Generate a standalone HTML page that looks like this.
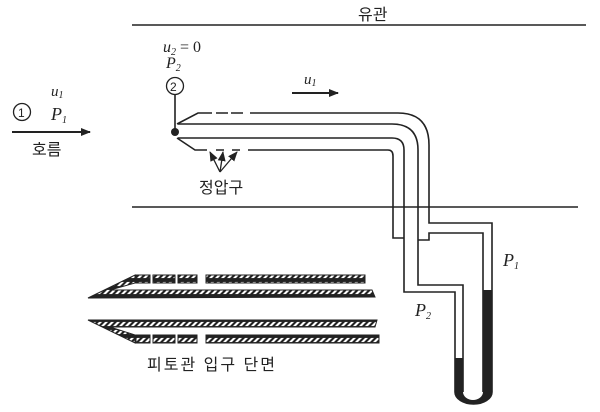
<!DOCTYPE html>
<html><head><meta charset="utf-8"><style>
html,body{margin:0;padding:0;background:#fff;}
svg{display:block}
text{font-family:"Liberation Serif","Noto Serif CJK SC",serif;fill:#222}
.k{font-family:"Liberation Sans","Noto Sans CJK KR",sans-serif;font-size:16px}
.i{font-style:italic;font-size:18px}
</style></head><body>
<svg width="600" height="412" viewBox="0 0 600 412" xmlns="http://www.w3.org/2000/svg">
<defs>
<pattern id="h" width="6" height="8" patternUnits="userSpaceOnUse" patternTransform="skewX(-45)">
<rect width="6" height="8" fill="#222"/><rect x="1" y="2" width="3" height="4" fill="#fff"/>
</pattern>
<marker id="a" markerWidth="10" markerHeight="8" refX="9" refY="4" orient="auto" markerUnits="userSpaceOnUse"><path d="M0,0 L10,4 L0,8 z" fill="#222"/></marker>
</defs>
<g stroke="#222" fill="none" stroke-width="1.6">
<line x1="132" y1="25" x2="586" y2="25"/>
<line x1="132" y1="207" x2="578" y2="207"/>
<line x1="12" y1="132" x2="90" y2="132" stroke-width="2" marker-end="url(#a)"/>
<line x1="292" y1="93" x2="338" y2="93" stroke-width="2" marker-end="url(#a)"/>
<line x1="175" y1="94" x2="175" y2="132"/>
<path d="M177,124 L198,113 L212,113 M216,113 L228,113 M231,113 L243,113 M250,113 L398,113 Q429,113 429,145 L429,223 L492,223 L492,392"/>
<path d="M178,124 L392,124 Q418,124 418,150 L418,285 L463,285 L463,392"/>
<path d="M418,240 L429,240 L429,233 L483,233 L483,392"/>
<path d="M178,138 L392,138 Q404,138 404,150 L404,292 L455,292 L455,392"/>
<path d="M177,138 L195,150 L207,150 M216,150 L224,150 M232,150 L240,150 M248,150 L388,150 Q393,150 393,156 L393,238 L404,238"/>
</g>
<path d="M483,290 L492,290 L492,392 A18.5,12 0 0 1 455,392 L455,358 L463,358 L463,392 A10,8 0 0 0 483,392 Z" fill="#222"/>
<path d="M455,392 A18.5,12 0 0 0 492,392" stroke="#222" fill="none" stroke-width="1.6"/>
<circle cx="175" cy="132" r="4" fill="#222"/>
<circle cx="175" cy="86" r="8.5" fill="none" stroke="#222" stroke-width="1.3"/>
<text x="170" y="91" style="font-size:12px;font-family:'Liberation Sans',sans-serif">2</text>
<circle cx="22" cy="112" r="8.5" fill="none" stroke="#222" stroke-width="1.3"/>
<text x="18" y="117" style="font-size:12px;font-family:'Liberation Sans',sans-serif">1</text>
<g stroke="#222" stroke-width="1.3" fill="none">
<line x1="220" y1="172" x2="210" y2="152" marker-end="url(#a)"/>
<line x1="220" y1="172" x2="223" y2="152" marker-end="url(#a)"/>
<line x1="220" y1="172" x2="237" y2="152" marker-end="url(#a)"/>
</g>
<g fill="url(#h)" stroke="#222" stroke-width="1">
<rect x="136" y="275" width="14" height="8"/>
<rect x="153" y="275" width="22" height="8"/>
<rect x="178" y="275" width="19" height="8"/>
<rect x="206" y="275" width="159" height="8"/>
<path d="M88,298 L135,275 L135,283 L110,290 L372,290 L375,297 L88,298 Z"/>
<path d="M88,320 L377,320 L375,327 L110,327 L135,335 L135,343 Z"/>
<rect x="136" y="335" width="14" height="8"/>
<rect x="153" y="335" width="22" height="8"/>
<rect x="178" y="335" width="19" height="8"/>
<rect x="206" y="335" width="173" height="8"/>
</g>
<text class="k" x="358" y="20">유관</text>
<text class="i" x="163" y="52" style="font-size:16px">u<tspan font-size="10" dy="3">2</tspan><tspan dy="-3" font-style="normal"> = 0</tspan></text>
<text class="i" x="166" y="68" style="font-size:16px">P<tspan font-size="10" dy="3">2</tspan></text>
<text class="i" x="51" y="96" style="font-size:15px">u<tspan font-size="10" dy="2">1</tspan></text>
<text class="i" x="51" y="120">P<tspan font-size="10" dy="3">1</tspan></text>
<text class="k" x="32" y="155">호름</text>
<text class="i" x="304" y="84" style="font-size:15px">u<tspan font-size="10" dy="2">1</tspan></text>
<text class="k" x="199" y="193">정압구</text>
<text class="i" x="503" y="266">P<tspan font-size="10" dy="3">1</tspan></text>
<text class="i" x="415" y="316">P<tspan font-size="10" dy="3">2</tspan></text>
<text class="k" x="147" y="370" style="letter-spacing:2px">피토관 입구 단면</text>
</svg>
</body></html>
